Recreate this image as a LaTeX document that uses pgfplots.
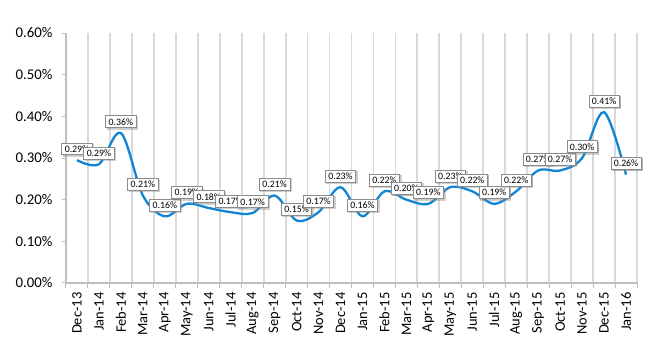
\documentclass[border=0pt]{standalone}
\usepackage{pgfplots}
\pgfplotsset{compat=1.18}
\usepackage{fontspec}
\setmainfont{Carlito}
\usetikzlibrary{shadows}
\definecolor{lineblue}{RGB}{18,132,212}
\definecolor{gridgray}{RGB}{217,217,217}
\definecolor{axisgray}{RGB}{190,190,190}
\definecolor{boxgray}{RGB}{140,140,140}
\begin{document}
\begin{tikzpicture}
\useasboundingbox (0,0) rectangle (650pt,350pt);
\begin{axis}[
  at={(66pt,67pt)}, anchor=south west,
  scale only axis, width=571pt, height=250pt,
  xmin=-0.5, xmax=25.5, ymin=0, ymax=0.6,
  axis lines*=left,
  axis line style={draw=axisgray, line width=1.6pt},
  xtick={0,...,25},
  xticklabels={Dec-13,Jan-14,Feb-14,Mar-14,Apr-14,May-14,Jun-14,Jul-14,Aug-14,Sep-14,Oct-14,Nov-14,Dec-14,Jan-15,Feb-15,Mar-15,Apr-15,May-15,Jun-15,Jul-15,Aug-15,Sep-15,Oct-15,Nov-15,Dec-15,Jan-16},
  minor xtick={-0.5,0.5,...,25.5},
  xminorgrids=true,
  minor grid style={draw=gridgray, line width=1.8pt},
  xtick style={draw=none},
  minor x tick style={draw=axisgray, line width=1pt},
  ytick={0,0.1,0.2,0.3,0.4,0.5,0.6},
  yticklabels={0.00\%,0.10\%,0.20\%,0.30\%,0.40\%,0.50\%,0.60\%},
  y tick style={draw=axisgray, line width=1pt},
  tick align=outside,
  major tick length=4pt, minor tick length=5pt,
  xticklabel style={rotate=90, anchor=east, font=\fontsize{14.5}{14.5}\selectfont, text=black, xshift=-2pt},
  yticklabel style={font=\fontsize{14.8}{15}\selectfont, text=black, xshift=-6pt},
  /pgf/number format/assume math mode=true,
  clip=false,
]
\addplot[color=lineblue, line width=2.3pt, smooth, tension=0.55,
  nodes near coords={\pgfplotspointmeta\%},
  point meta=explicit symbolic,
  every node near coord/.style={anchor=south, yshift=5pt, fill=white, draw=boxgray, line width=0.6pt,
    inner xsep=3pt, inner ysep=2.6pt, font=\fontsize{9.8}{10}\selectfont, text=black,
    drop shadow={shadow xshift=1.3pt, shadow yshift=-1.3pt, opacity=0.4}}]
table[meta=lab] {
x y lab
0 0.295 0.29
1 0.285 0.29
2 0.36 0.36
3 0.21 0.21
4 0.16 0.16
5 0.19 0.19
6 0.18 0.18
7 0.17 0.17
8 0.168 0.17
9 0.21 0.21
10 0.15 0.15
11 0.17 0.17
12 0.23 0.23
13 0.16 0.16
14 0.22 0.22
15 0.20 0.20
16 0.19 0.19
17 0.23 0.23
18 0.22 0.22
19 0.19 0.19
20 0.22 0.22
21 0.27 0.27
22 0.27 0.27
23 0.30 0.30
24 0.41 0.41
25 0.26 0.26
};
\end{axis}
\end{tikzpicture}
\end{document}
